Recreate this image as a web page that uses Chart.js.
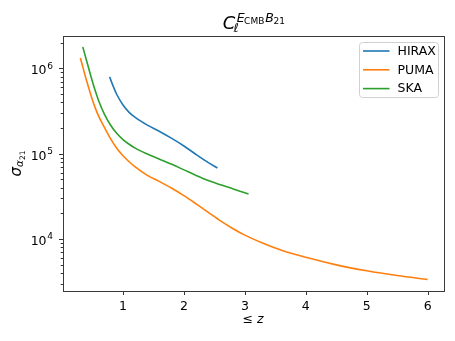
<!DOCTYPE html>
<html>
<head>
<meta charset="utf-8">
<script src="https://cdn.jsdelivr.net/npm/chart.js@4.4.1/dist/chart.umd.min.js"></script>
<style>
html,body{margin:0;padding:0;background:#fff;}
#wrap{width:455px;height:341px;}
</style>
</head>
<body>
<div id="wrap"><canvas id="c" width="455" height="341"></canvas></div>
<script>
// ---- data ----
const seriesNames = ["HIRAX", "PUMA", "SKA"];
const seriesColors = ["#1f77b4", "#ff7f0e", "#2ca02c"];

const hiraxZ = [0.78,0.85,0.9,1.0,1.1,1.2,1.4,1.6,1.8,2.0,2.2,2.4,2.55];
const hiraxS = [7.94e5,5.89e5,4.9e5,3.72e5,3.05e5,2.66e5,2.16e5,1.82e5,1.51e5,1.23e5,9.77e4,7.85e4,6.78e4];

const pumaZ = [0.3,0.35,0.4,0.45,0.5,0.55,0.6,0.7,0.8,0.9,1.0,1.1,1.2,1.4,1.6,1.8,2.0,2.2,2.4,2.6,2.8,3.0,3.3,3.6,4.0,4.5,5.0,5.5,6.0];
const pumaS = [1.318e6,9.77e5,7.24e5,5.5e5,4.22e5,3.35e5,2.75e5,2.0e5,1.48e5,1.148e5,9.44e4,8.04e4,7.0e4,5.56e4,4.70e4,3.93e4,3.22e4,2.58e4,2.05e4,1.63e4,1.33e4,1.11e4,8.91e3,7.38e3,6.1e3,4.98e3,4.24e3,3.73e3,3.36e3];

const skaZ = [0.34,0.4,0.45,0.5,0.55,0.6,0.7,0.8,0.9,1.0,1.1,1.2,1.4,1.6,1.8,2.0,2.2,2.4,2.6,2.8,3.06];
const skaS = [1.78e6,1.245e6,9.23e5,6.92e5,5.31e5,4.17e5,2.85e5,2.14e5,1.72e5,1.462e5,1.288e5,1.161e5,9.89e4,8.61e4,7.5e4,6.46e4,5.56e4,4.84e4,4.32e4,3.89e4,3.36e4];

const xTicks = [1, 2, 3, 4, 5, 6];
const yMajorTicks = [1e4, 1e5, 1e6];
const yMajorExps = ["4", "5", "6"];

const xMin = 0.015, xMax = 6.285;
const yMin = 2460, yMax = 2.39e6;

// ---- build ----
function pts(zs, ss) { return zs.map((z, i) => ({x: z, y: ss[i]})); }
const seriesData = [pts(hiraxZ, hiraxS), pts(pumaZ, pumaS), pts(skaZ, skaS)];

const yAllTicks = [];
for (let e = 3; e <= 6; e++) {
  for (let m = 1; m <= 9; m++) {
    const v = m * Math.pow(10, e);
    if (v >= yMin && v <= yMax) yAllTicks.push(v);
  }
}

const FONT = "'DejaVu Sans', sans-serif";

const decor = {
  id: 'decor',
  afterDraw(chart) {
    const ctx = chart.ctx;
    const a = chart.chartArea;
    const xs = chart.scales.x, ys = chart.scales.y;
    ctx.save();
    // tick marks
    ctx.strokeStyle = '#333';
    ctx.lineWidth = 1;
    xTicks.forEach(v => {
      const px = Math.round(xs.getPixelForValue(v)) + 0.5;
      ctx.beginPath(); ctx.moveTo(px, a.bottom); ctx.lineTo(px, a.bottom + 4); ctx.stroke();
    });
    yAllTicks.forEach(v => {
      const py = Math.round(ys.getPixelForValue(v)) + 0.5;
      const major = yMajorTicks.includes(v);
      const len = major ? 4 : 2.3;
      ctx.beginPath(); ctx.moveTo(a.left, py); ctx.lineTo(a.left - len, py); ctx.stroke();
    });
    // spines
    ctx.strokeStyle = '#3a3a3a';
    ctx.lineWidth = 1;
    ctx.strokeRect(Math.round(a.left) + 0.5, Math.round(a.top) + 0.5,
                   Math.round(a.right - a.left) - 1, Math.round(a.bottom - a.top));

    ctx.fillStyle = '#000';
    ctx.textBaseline = 'alphabetic';
    ctx.textAlign = 'left';

    // y tick labels 10^k
    yMajorTicks.forEach((v, i) => {
      const py = ys.getPixelForValue(v);
      ctx.font = '9px ' + FONT;
      const we = ctx.measureText(yMajorExps[i]).width;
      ctx.font = '12.5px ' + FONT;
      const wb = ctx.measureText('10').width;
      const right = a.left - 10;
      ctx.fillText('10', right - we - 0.7 - wb, py + 6);
      ctx.font = '9px ' + FONT;
      ctx.fillText(yMajorExps[i], right - we, py + 0.3);
    });

    // title  C_l^{E_CMB B_21}
    const fC = 'italic 18px ' + FONT, fS = 'italic 12.5px ' + FONT, fSS = '9px ' + FONT;
    ctx.font = fC; const wC = ctx.measureText('C').width;
    ctx.font = fS; const wL = ctx.measureText('\u2113').width;
    const wE = ctx.measureText('E').width, wB = ctx.measureText('B').width;
    ctx.font = fSS; const wCMB = ctx.measureText('CMB').width, w21 = ctx.measureText('21').width;
    const supW = 1.5 + wE + wCMB + 0.5 + wB + w21;
    const total = wC + Math.max(wL, supW);
    const cx = (a.left + a.right) / 2;
    let x0 = cx - total / 2;
    ctx.font = fC; ctx.fillText('C', x0, 29);
    ctx.font = fS; ctx.fillText('\u2113', x0 + wC - 1.5, 32);
    let sx = x0 + wC + 1.5;
    ctx.font = fS; ctx.fillText('E', sx, 21.7); sx += wE;
    ctx.font = fSS; ctx.fillText('CMB', sx - 0.5, 23.5); sx += wCMB + 0.5;
    ctx.font = fS; ctx.fillText('B', sx, 21.7); sx += wB;
    ctx.font = fSS; ctx.fillText('21', sx - 0.5, 23.5);

    // x label  ≤ z
    ctx.font = '12.5px ' + FONT;
    const wLe = ctx.measureText('\u2264 ').width;
    ctx.font = 'italic 12.5px ' + FONT;
    const wz = ctx.measureText('z').width;
    let lx = 253 - (wLe + wz) / 2;
    ctx.font = '12.5px ' + FONT; ctx.fillText('\u2264 ', lx, 323);
    ctx.font = 'italic 12.5px ' + FONT; ctx.fillText('z', lx + wLe, 323);

    // y label  sigma_{alpha_21}
    ctx.save();
    ctx.translate(20.5, (a.top + a.bottom) / 2);
    ctx.rotate(-Math.PI / 2);
    const fSig = 'italic 15px ' + FONT, fAl = 'italic 10.5px ' + FONT, f21 = '7.5px ' + FONT;
    ctx.font = fSig; const wSig = ctx.measureText('\u03c3').width;
    ctx.font = fAl; const wAl = ctx.measureText('\u03b1').width;
    ctx.font = f21; const wN = ctx.measureText('21').width;
    const tw = wSig + wAl + wN;
    let yx = -tw / 2;
    ctx.font = fSig; ctx.fillText('\u03c3', yx, 0); yx += wSig;
    ctx.font = fAl; ctx.fillText('\u03b1', yx, 2.5); yx += wAl;
    ctx.font = f21; ctx.fillText('21', yx, 4.5);
    ctx.restore();

    // legend
    const lgR = a.right - 6.5, lgT = a.top + 6.5, lgW = 79, lgH = 55;
    const lgL = lgR - lgW;
    ctx.beginPath();
    if (ctx.roundRect) ctx.roundRect(lgL, lgT, lgW, lgH, 3); else ctx.rect(lgL, lgT, lgW, lgH);
    ctx.fillStyle = 'rgba(255,255,255,0.8)';
    ctx.fill();
    ctx.strokeStyle = '#d0d0d0';
    ctx.lineWidth = 1;
    ctx.stroke();
    ctx.font = '12.5px ' + FONT;
    ctx.textBaseline = 'middle';
    chart.data.datasets.forEach((ds, i) => {
      const ry = lgT + 8.5 + i * 18.8;
      ctx.strokeStyle = ds.borderColor;
      ctx.lineWidth = 1.6;
      ctx.beginPath(); ctx.moveTo(lgL + 3.5, ry); ctx.lineTo(lgL + 30, ry); ctx.stroke();
      ctx.fillStyle = '#000';
      ctx.fillText(ds.label, lgL + 38, ry + 0.5);
    });
    ctx.restore();
  }
};

new Chart(document.getElementById('c'), {
  type: 'line',
  data: {
    datasets: seriesNames.map((n, i) => ({
      label: n,
      data: seriesData[i],
      borderColor: seriesColors[i],
      backgroundColor: seriesColors[i],
      borderWidth: 1.6,
      pointRadius: 0,
      fill: false,
      cubicInterpolationMode: 'monotone'
    }))
  },
  options: {
    responsive: false,
    animation: false,
    devicePixelRatio: 1,
    layout: { padding: { left: 0, top: 36, right: 10, bottom: 0 } },
    plugins: { legend: { display: false }, title: { display: false }, tooltip: { enabled: false } },
    scales: {
      x: {
        type: 'linear', min: xMin, max: xMax,
        afterBuildTicks: ax => { ax.ticks = xTicks.map(v => ({value: v})); },
        afterFit: sc => { sc.height = 50; },
        grid: { display: false }, border: { display: false },
        ticks: { color: '#000', font: { family: FONT, size: 12.5 }, padding: 0, maxRotation: 0, autoSkip: false,
                 callback: v => String(v) }
      },
      y: {
        type: 'logarithmic', min: yMin, max: yMax,
        afterBuildTicks: ax => { ax.ticks = yAllTicks.map(v => ({value: v})); },
        afterFit: sc => { sc.width = 63; },
        grid: { display: false }, border: { display: false },
        ticks: { color: '#000', font: { family: FONT, size: 12 }, padding: 9, autoSkip: false,
                 callback: () => '' }
      }
    }
  },
  plugins: [decor]
});
</script>
</body>
</html>
